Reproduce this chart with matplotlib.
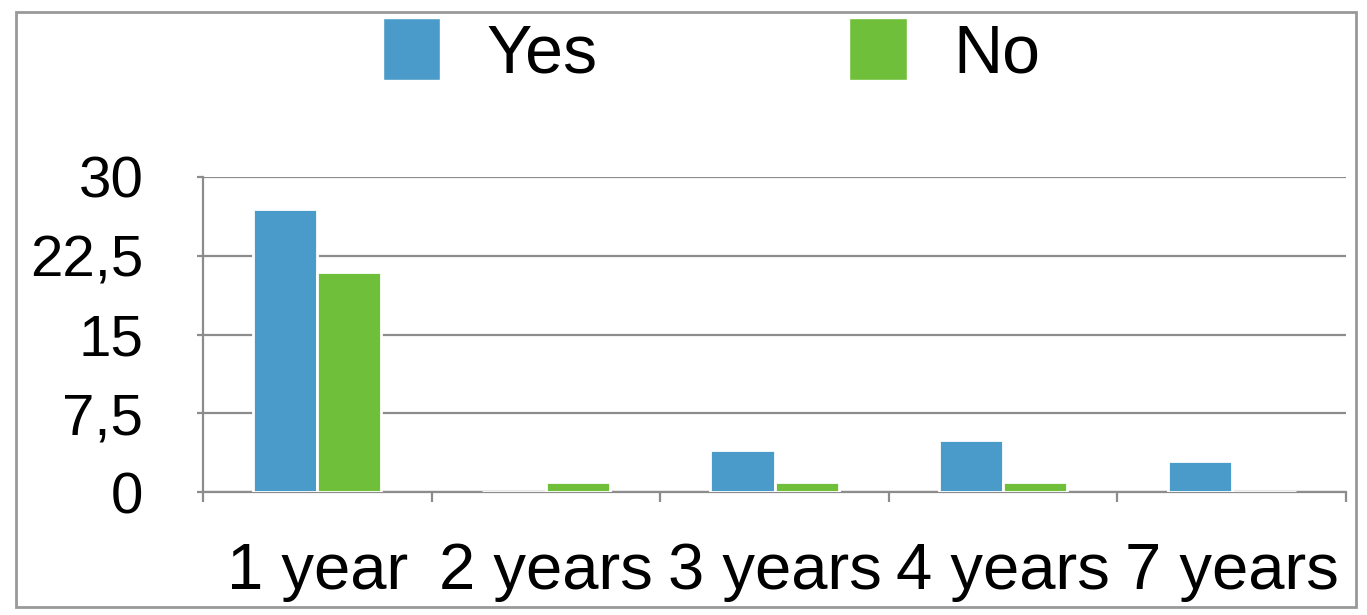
import matplotlib
matplotlib.use("Agg")
import matplotlib.pyplot as plt
import numpy as np
from matplotlib.patches import Rectangle, Patch
import matplotlib.patheffects as pe

categories = ["1 year", "2 years", "3 years", "4 years", "7 years"]
yes_vals = [27, 0, 4, 5, 3]
no_vals = [21, 1, 1, 1, 0]
yticks = [0, 7.5, 15, 22.5, 30]
ytick_labels = ["0", "7,5", "15", "22,5", "30"]

BLUE = "#4A9BC9"
GREEN = "#6FBF3A"
GRID = "#8c8c8c"

plt.rcParams['font.family'] = ['Liberation Sans', 'DejaVu Sans']

fig = plt.figure(figsize=(13.67, 6.15), dpi=100)
ax = fig.add_axes([203/1367, 1 - 492/615, (1346-203)/1367, (492-177)/615])

x = np.arange(len(categories))
w = 0.28
shadow = [pe.SimplePatchShadow(offset=(0, -4), alpha=0.3, shadow_rgbFace="#444444"), pe.Normal()]
b1 = ax.bar(x - w/2, yes_vals, w, color=BLUE, edgecolor="white", linewidth=2, zorder=3)
b2 = ax.bar(x + w/2, no_vals, w, color=GREEN, edgecolor="white", linewidth=2, zorder=3)
for b in list(b1) + list(b2):
    if b.get_height() > 0:
        b.set_path_effects(shadow)

ax.set_xlim(-0.5, len(categories) - 0.5)
ax.set_ylim(0, 30)
ax.set_yticks(yticks)
ax.set_yticklabels(ytick_labels, fontsize=42)
ax.yaxis.grid(True, color=GRID, linewidth=1.6, zorder=0)
ax.set_axisbelow(True)

ax.set_xticks(x)
ax.set_xticklabels(categories, fontsize=47)
ax.set_xticks(np.arange(len(categories) + 1) - 0.5, minor=True)
ax.tick_params(axis='x', which='major', length=0, pad=36)
ax.tick_params(axis='x', which='minor', length=7, width=1.6, color=GRID, direction='out')
ax.tick_params(axis='y', length=4, width=1.6, color=GRID, pad=39)

for s in ["top", "right"]:
    ax.spines[s].set_visible(False)
for s in ["left", "bottom"]:
    ax.spines[s].set_color(GRID)
    ax.spines[s].set_linewidth(1.6)

handles = [Patch(facecolor=BLUE, edgecolor="white"), Patch(facecolor=GREEN, edgecolor="white")]
fig.legend(handles, ["Yes", "No"], loc="center", bbox_to_anchor=(0.5205, 1 - 52/615),
           ncol=2, frameon=False, fontsize=49, handlelength=0.84, handleheight=1.04,
           handletextpad=0.68, columnspacing=3.7)

fig.patches.append(Rectangle((16/1367, 1 - 607/615), (1356-16)/1367, (607-12)/615,
                             transform=fig.transFigure, fill=False, edgecolor="#999999",
                             linewidth=2))

fig.savefig("out.png", dpi=100)
